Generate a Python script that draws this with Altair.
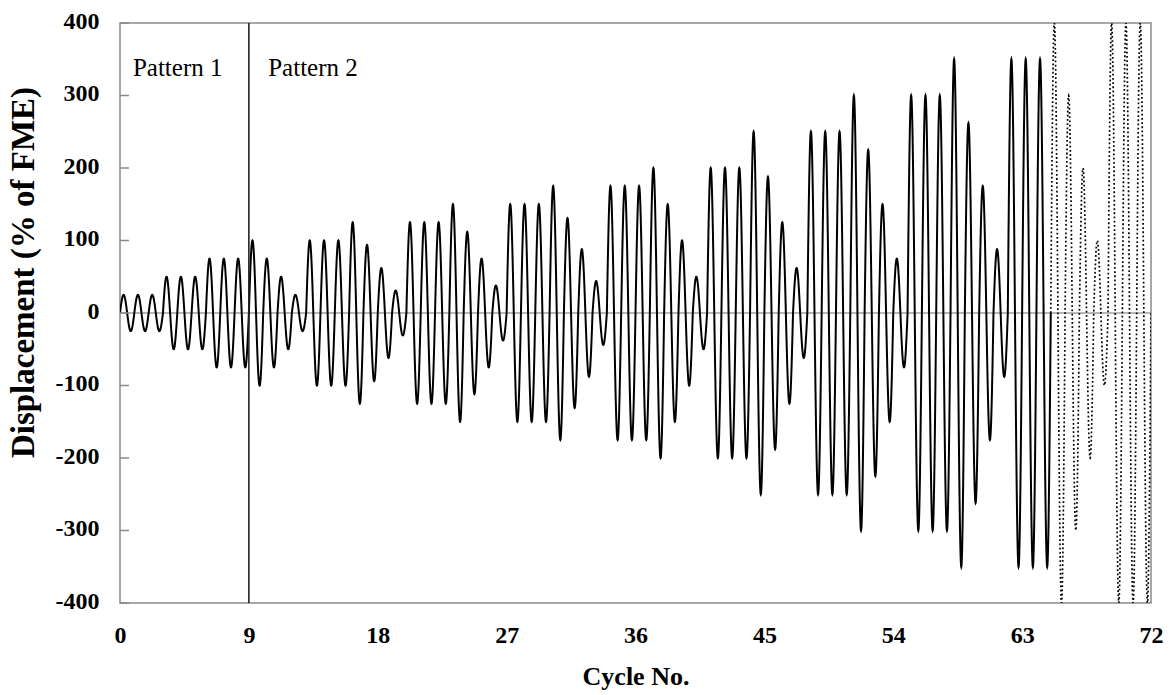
import altair as alt
import pandas as pd

# ---- data ----
pattern1_amps = [25, 25, 25, 50, 50, 50, 75, 75, 75]
pattern2_amps = [100, 75, 50, 25,
                 100, 100, 100, 125, 94, 62, 31,
                 125, 125, 125, 150, 112, 75, 38,
                 150, 150, 150, 175, 131, 88, 44,
                 175, 175, 175, 200, 150, 100, 50,
                 200, 200, 200, 250, 188, 125, 62,
                 250, 250, 250, 300, 225, 150, 75,
                 300, 300, 300, 350, 262, 175, 88,
                 350, 350, 350]
dotted_amps = [400, 300, 200, 100, 400, 400, 400]

x_ticks = [0, 9, 18, 27, 36, 45, 54, 63, 72]
y_ticks = [-400, -300, -200, -100, 0, 100, 200, 300, 400]
pattern_labels = ["Pattern 1", "Pattern 2"]
pattern_label_x = [0.9, 10.35]
pattern_label_y = [338, 338]
divider_x = [9]
zero_y = [0]

all_amps = pattern1_amps + pattern2_amps + dotted_amps
n_cycles = len(all_amps)
solid_end = len(pattern1_amps) + len(pattern2_amps)
steps = 100  # samples per cycle

amp_df = pd.DataFrame({"cycle": list(range(n_cycles)), "amp": all_amps})
label_df = pd.DataFrame({"t": pattern_label_x, "d": pattern_label_y, "label": pattern_labels})
ytick_df = pd.DataFrame({"d": y_ticks})
div_df = pd.DataFrame({"t": divider_x})
zero_df = pd.DataFrame({"d": zero_y})

SERIF = "Liberation Serif"
FRAME = "#8a8a8a"

x_scale = alt.Scale(domain=[0, 72], nice=False, zero=False)
y_scale = alt.Scale(domain=[-400, 400], nice=False)

x_axis = alt.Axis(values=x_ticks, title="Cycle No.", grid=False, ticks=False, domain=False,
                  labelFont=SERIF, labelFontSize=24, labelFontWeight="bold", labelColor="black",
                  labelPadding=20, labelFlush=False,
                  titleFont=SERIF, titleFontSize=26, titleFontWeight="bold", titleColor="black",
                  titleBaseline="alphabetic", titleY=81)
y_axis = alt.Axis(values=y_ticks, title="Displacement (% of FME)", grid=False, ticks=False, domain=False,
                  labelFont=SERIF, labelFontSize=24, labelFontWeight="bold", labelColor="black",
                  labelPadding=21, labelExpr="datum.value + ''", labelOffset=-2,
                  titleFont=SERIF, titleFontSize=33, titleFontWeight="bold", titleColor="black",
                  titleAngle=-90, titleBaseline="middle", titleX=-97, titleY=249)

X = lambda f: alt.X(f, scale=x_scale, axis=x_axis)
Y = lambda f: alt.Y(f, scale=y_scale, axis=y_axis)

wave = (
    alt.Chart(alt.sequence(0, n_cycles * steps + 1, 1, as_="i"))
    .transform_calculate(t=f"datum.i / {steps}")
    .transform_calculate(cycle=f"min(floor(datum.i / {steps}), {n_cycles - 1})")
    .transform_lookup(lookup="cycle", from_=alt.LookupData(data=amp_df, key="cycle", fields=["amp"]))
    .transform_calculate(d="datum.amp * sin(2 * PI * datum.t)")
)

solid = wave.transform_filter(f"datum.i <= {solid_end * steps}").mark_line(
    color="black", strokeWidth=2, clip=True).encode(x=X("t:Q"), y=Y("d:Q"), order="t:Q")
dotted = wave.transform_filter(f"datum.i >= {solid_end * steps}").mark_line(
    color="black", strokeWidth=1.7, strokeDash=[1.8, 2.4], clip=True).encode(x=X("t:Q"), y=Y("d:Q"), order="t:Q")

zero_line = alt.Chart(zero_df).mark_rule(color="#6e6e6e", strokeWidth=1).encode(y=Y("d:Q"))
divider = alt.Chart(div_df).mark_rule(color="#222222", strokeWidth=1.6).encode(x=X("t:Q"))
yticks = alt.Chart(ytick_df).mark_rule(color=FRAME, strokeWidth=1.5).encode(
    x=alt.value(0), x2=alt.value(9), y=Y("d:Q"))
labels = alt.Chart(label_df).mark_text(align="left", baseline="middle", font=SERIF, fontSize=25,
                                       color="black").encode(x=X("t:Q"), y=Y("d:Q"), text="label:N")

chart = (
    alt.layer(zero_line, solid, dotted, divider, yticks, labels)
    .properties(width=1031, height=580,
                autosize=alt.AutoSizeParams(type="none"),
                padding={"left": 120, "top": 23, "right": 23, "bottom": 92},
                background="white")
    .configure_view(stroke=FRAME, strokeWidth=1.5)
)

chart.save("out.html", embed_options={"renderer": "svg", "actions": False})
